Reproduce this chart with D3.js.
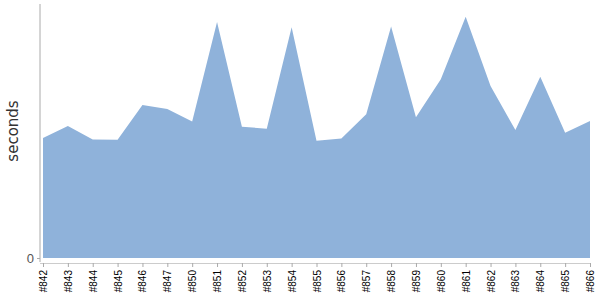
<!DOCTYPE html>
<html>
<head>
<meta charset="utf-8">
<script src="https://cdn.jsdelivr.net/npm/d3@7"></script>
<style>
  body { margin: 0; background: #fff; }
  svg { display: block; font-family: "DejaVu Sans", sans-serif; }
</style>
</head>
<body>
<svg id="chart" width="600" height="300"></svg>
<script>
const builds = ["#842","#843","#844","#845","#846","#847","#850","#851","#852","#853","#854","#855","#856","#857","#858","#859","#860","#861","#862","#863","#864","#865","#866"];
const durations = [47.2,52.0,46.7,46.6,60.2,58.7,53.7,92.9,51.7,50.9,90.8,46.2,47.0,56.6,91.1,55.4,70.4,95.0,67.7,50.4,71.4,49.3,53.9];
const yTicks = [0];

const svg = d3.select("#chart");
const x = d3.scalePoint().domain(builds).range([43, 590]);
const y = d3.scaleLinear().domain([0, 100]).range([258, 4]);

const area = d3.area()
  .x(d => x(d.b))
  .y0(y(0))
  .y1(d => y(d.v))
  .curve(d3.curveLinear);

const data = builds.map((b, i) => ({b, v: durations[i]}));

svg.append("path")
  .datum(data)
  .attr("d", area)
  .attr("fill", "#8fb2da");

// y axis
const yAxis = svg.append("g").attr("transform", "translate(40,0)")
  .call(d3.axisLeft(y).tickValues(yTicks).tickSize(3).tickFormat(d3.format("d")));
yAxis.select(".domain").attr("d", "M0,4V262").attr("stroke", "#aaa");
yAxis.selectAll(".tick line").attr("stroke", "#aaa");
yAxis.selectAll(".tick text").attr("fill", "#555").attr("font-size", 13).attr("x", -6);

// x axis
const xAxis = svg.append("g").attr("transform", "translate(0,263)")
  .call(d3.axisBottom(x).tickSize(4).tickSizeOuter(0));
xAxis.select(".domain").attr("d", "M40,0.5H591").attr("stroke", "#ccc");
xAxis.selectAll(".tick line").attr("stroke", "#aaa");
xAxis.selectAll(".tick text")
  .attr("fill", "#000")
  .attr("font-size", 10)
  .attr("transform", "rotate(-90)")
  .attr("text-anchor", "end")
  .attr("x", -7)
  .attr("y", 0)
  .attr("dy", "0.35em");

svg.append("text")
  .attr("transform", "translate(18,131) rotate(-90)")
  .attr("text-anchor", "middle")
  .attr("font-size", 15)
  .attr("fill", "#333")
  .text("seconds");
</script>
</body>
</html>
